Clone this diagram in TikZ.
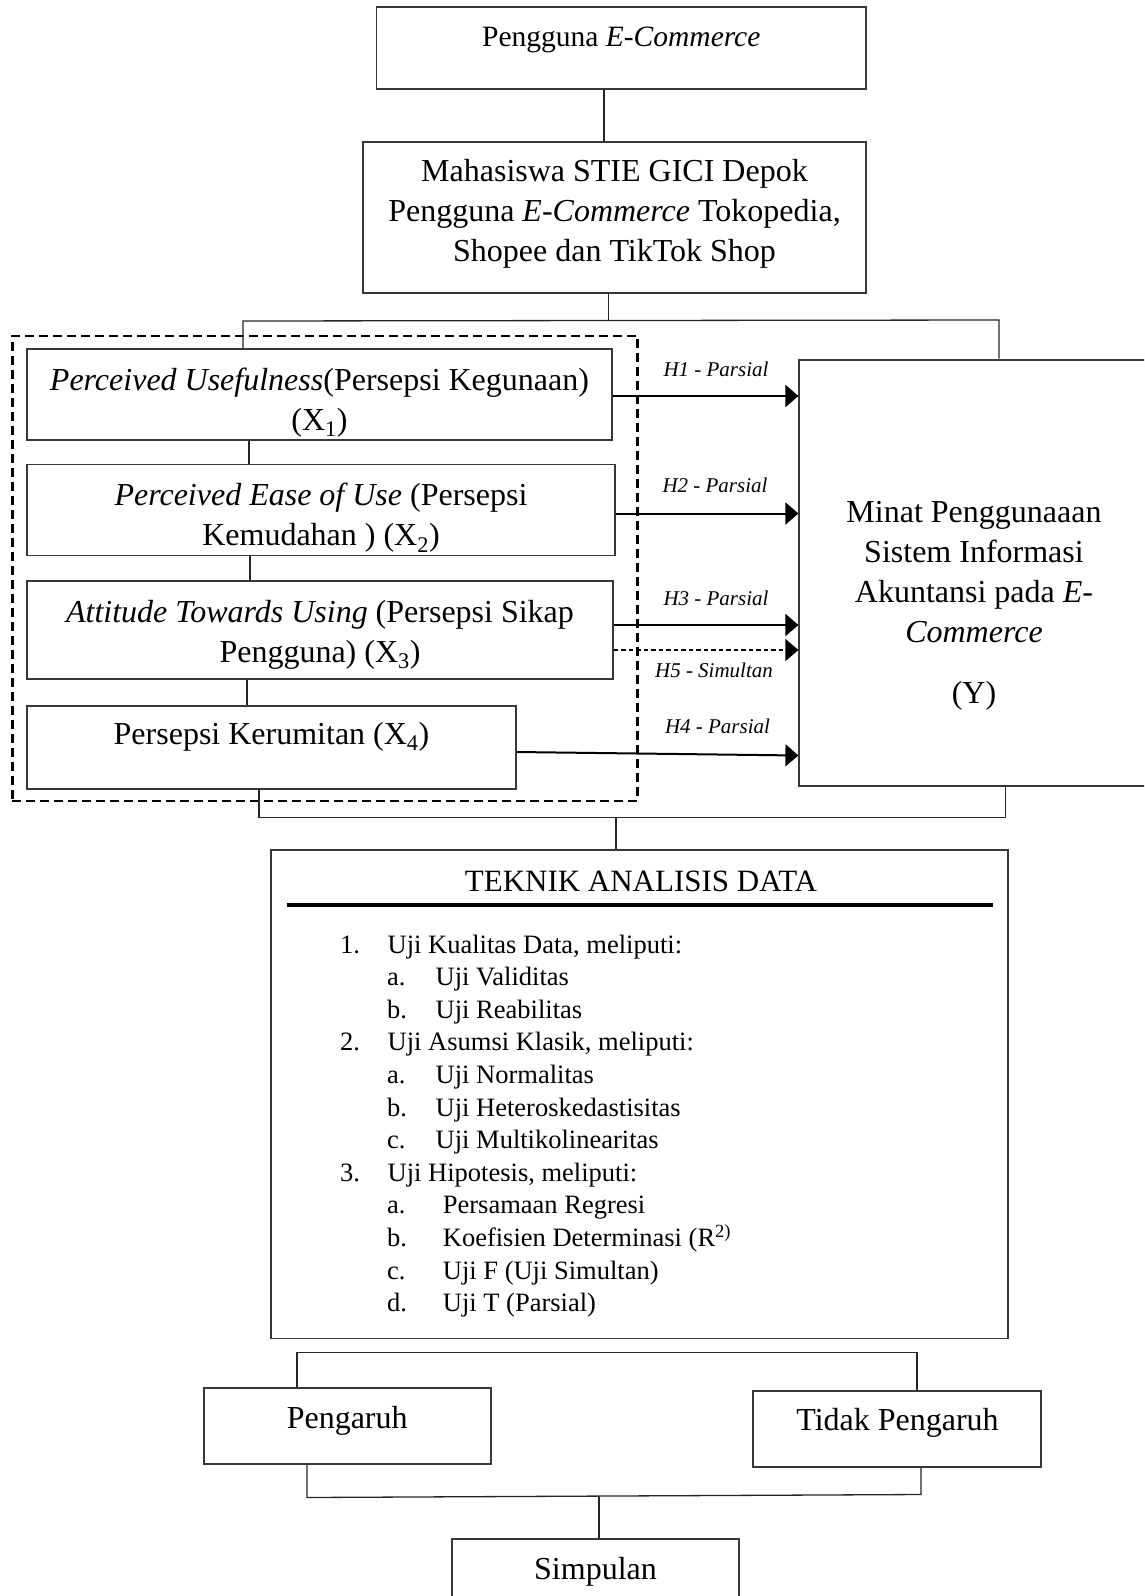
\documentclass[tikz,border=0pt]{standalone}
\usepackage{fontspec}
\setmainfont{Liberation Serif}
\usetikzlibrary{arrows.meta,calc}
\newcommand{\szmain}{\fontsize{32}{40}\selectfont}
\newcommand{\szone}{\fontsize{29.5}{36}\selectfont}
\newcommand{\szhyp}{\fontsize{21}{25}\selectfont}
\newcommand{\szlist}{\fontsize{26.5}{32}\selectfont}
\newcommand{\sztitle}{\fontsize{31}{36}\selectfont}
\tikzset{
  box/.style={draw=black!78, line width=1.8pt, inner sep=0pt, align=center, font=\szmain},
  txt/.style={inner sep=0pt, align=center, font=\szmain},
  conn/.style={line width=1.3pt, draw=black!85},
  arr/.style={line width=2pt, -{Triangle[length=13pt,width=22pt]}},
  arrdash/.style={line width=1.5pt, dash pattern=on 4.5pt off 3pt, -{Triangle[length=13pt,width=22pt]}},
  frame/.style={draw=black, line width=2.8pt, dash pattern=on 9pt off 5pt, inner sep=0pt},
  hyp/.style={inner sep=0pt, font=\szhyp\itshape},
  lst/.style={inner sep=0pt, anchor=base west, font=\szlist},
}
\begin{document}
\begin{tikzpicture}[x=1pt,y=-1pt]
\path[use as bounding box] (0,0) rectangle (1144,1596);
\fill[white] (0,0) rectangle (1144,1596);
\clip (0,0) rectangle (1144,1596);

% top boxes
\node[box, minimum width=489.5, minimum height=81.4] (b1) at (621.3,48) {};
\node[txt, font=\szone] (b1t) at (621.3,40) {Pengguna \textit{E-Commerce}};
\node[box, minimum width=503.4, minimum height=151.3] (b2) at (614.3,217.7) {};
\node[txt] (b2t) at (614.5,214) {Mahasiswa STIE GICI Depok\\Pengguna \textit{E-Commerce} Tokopedia,\\Shopee dan TikTok Shop};

% dashed group frame
\node[frame, minimum width=625.3, minimum height=465] (grp) at (325.05,568.5) {};

% X boxes
\node[box, minimum width=585, minimum height=91] (x1) at (319.5,394.5) {};
\node[txt] (x1t) at (319.5,402.5) {\textit{Perceived Usefulness}(Persepsi Kegunaan)\\(X\textsubscript{1})};
\node[box, minimum width=588, minimum height=91] (x2) at (321,510) {};
\node[txt] (x2t) at (321,518) {\textit{Perceived Ease of Use} (Persepsi\\Kemudahan ) (X\textsubscript{2})};
\node[box, minimum width=586, minimum height=98] (x3) at (320,630) {};
\node[txt] (x3t) at (320,635) {\textit{Attitude Towards Using} (Persepsi Sikap\\Pengguna) (X\textsubscript{3})};
\node[box, minimum width=489, minimum height=83.4] (x4) at (271.5,747.3) {};
\node[txt] (x4t) at (271.5,737) {Persepsi Kerumitan (X\textsubscript{4})};

% Y box
\node[box, minimum width=360.7, minimum height=426.4] (yb) at (979.65,572.8) {};
\node[txt] (ybt) at (974,605.6) {Minat Penggunaaan\\Sistem Informasi\\Akuntansi pada \textit{E-}\\\textit{Commerce}\\[21pt](Y)};

% connectors at top
\coordinate (t1) at (604,88.7);
\draw[conn] (t1) -- (t1 |- b2.north);
\coordinate (t2) at (608.5,293.3);
\coordinate (hL) at (243,321);
\coordinate (hR) at (999,320);
\draw[conn] (t2) -- (t2 |- hL);
\draw[conn] (hL |- x1.north) -- (hL) -- (hR) -- (hR |- yb.north);

% X chain
\coordinate (v1) at (249,0);
\coordinate (v2) at (250,0);
\coordinate (v3) at (247,0);
\draw[conn] (v1 |- x1.south) -- (v1 |- x2.north);
\draw[conn] (v2 |- x2.south) -- (v2 |- x3.north);
\draw[conn] (v3 |- x3.south) -- (v3 |- x4.north);

% hypothesis arrows
\coordinate (a1) at ([yshift=-1.5pt]x1.east);
\coordinate (a2) at ([yshift=-3.5pt]x2.east);
\coordinate (a3) at ([yshift=5pt]x3.east);
\coordinate (a5) at ([yshift=-20pt]x3.east);
\coordinate (a4) at ([yshift=-4.7pt]x4.east);
\draw[arr] (a1) -- (a1 -| yb.west);
\draw[arr] (a2) -- (a2 -| yb.west);
\draw[arr] (a3) -- (a3 -| yb.west);
\draw[arrdash] (a5) -- (a5 -| yb.west);
\draw[arr] (a4) -- ($(a4 -| yb.west)+(0,3.5)$);
\node[hyp] (h1) at (716,369) {H1 - Parsial};
\node[hyp] (h2) at (715,485) {H2 - Parsial};
\node[hyp] (h3) at (716,598) {H3 - Parsial};
\node[hyp] (h5) at (714,670) {H5 - Simultan};
\node[hyp] (h4) at (717.5,726.7) {H4 - Parsial};

% connectors to analysis box
\coordinate (bL) at (259,817.6);
\coordinate (bR) at (1005.5,817.6);
\coordinate (bM) at (616,817.6);
\node[box, minimum width=737, minimum height=488.5] (tek) at (639.5,1094.25) {};
\draw[conn] (bL |- x4.south) -- (bL) -- (bR) -- (bR |- yb.south);
\draw[conn] (bM) -- (bM |- tek.north);

% analysis content
\node[txt, font=\sztitle] (tekt) at (641,881) {TEKNIK ANALISIS DATA};
\draw[line width=4pt] (286.7,905) -- (993,905);
\node[lst] (n1) at (340,953) {1.};
\node[lst] (l1) at (387.5,953) {Uji Kualitas Data, meliputi:};
\node[lst] (m1) at (387,985.6) {a.};
\node[lst] (s1) at (435.5,985.6) {Uji Validitas};
\node[lst] (m2) at (387,1018.2) {b.};
\node[lst] (s2) at (435.5,1018.2) {Uji Reabilitas};
\node[lst] (n2) at (340,1050.8) {2.};
\node[lst] (l2) at (387.5,1050.8) {Uji Asumsi Klasik, meliputi:};
\node[lst] (m3) at (387,1083.4) {a.};
\node[lst] (s3) at (435.5,1083.4) {Uji Normalitas};
\node[lst] (m4) at (387,1116) {b.};
\node[lst] (s4) at (435.5,1116) {Uji Heteroskedastisitas};
\node[lst] (m5) at (387,1148.6) {c.};
\node[lst] (s5) at (435.5,1148.6) {Uji Multikolinearitas};
\node[lst] (n3) at (340,1181.2) {3.};
\node[lst] (l3) at (387.5,1181.2) {Uji Hipotesis, meliputi:};
\node[lst] (m6) at (387,1213.8) {a.};
\node[lst] (s6) at (442.7,1213.8) {Persamaan Regresi};
\node[lst] (m7) at (387,1246.4) {b.};
\node[lst] (s7) at (442.7,1246.4) {Koefisien Determinasi (R\textsuperscript{2)}};
\node[lst] (m8) at (387,1279) {c.};
\node[lst] (s8) at (442.7,1279) {Uji F (Uji Simultan)};
\node[lst] (m9) at (387,1311.6) {d.};
\node[lst] (s9) at (442.7,1311.6) {Uji T (Parsial)};

% results
\node[box, minimum width=287, minimum height=75.7] (peng) at (347.2,1425.85) {};
\node[txt] (pengt) at (347.2,1420.5) {Pengaruh};
\node[box, minimum width=287.7, minimum height=76] (tidak) at (896.85,1428.7) {};
\node[txt] (tidakt) at (897.5,1422.5) {Tidak Pengaruh};
\coordinate (pL) at (297,1352.7);
\coordinate (pR) at (917,1352.7);
\draw[conn] (pL |- peng.north) -- (pL) -- (pR) -- (pR |- tidak.north);
\coordinate (qL) at (307,1497.5);
\coordinate (qR) at (921,1494.5);
\draw[conn] (qL |- peng.south) -- (qL) -- (qR) -- (qR |- tidak.south);

% conclusion
\node[box, minimum width=287, minimum height=71.3] (simp) at (595.2,1574.35) {};
\node[txt] (simpt) at (595.5,1571.5) {Simpulan};
\coordinate (qM) at (599,1496);
\draw[conn] (qM) -- (qM |- simp.north);
\end{tikzpicture}
\end{document}
